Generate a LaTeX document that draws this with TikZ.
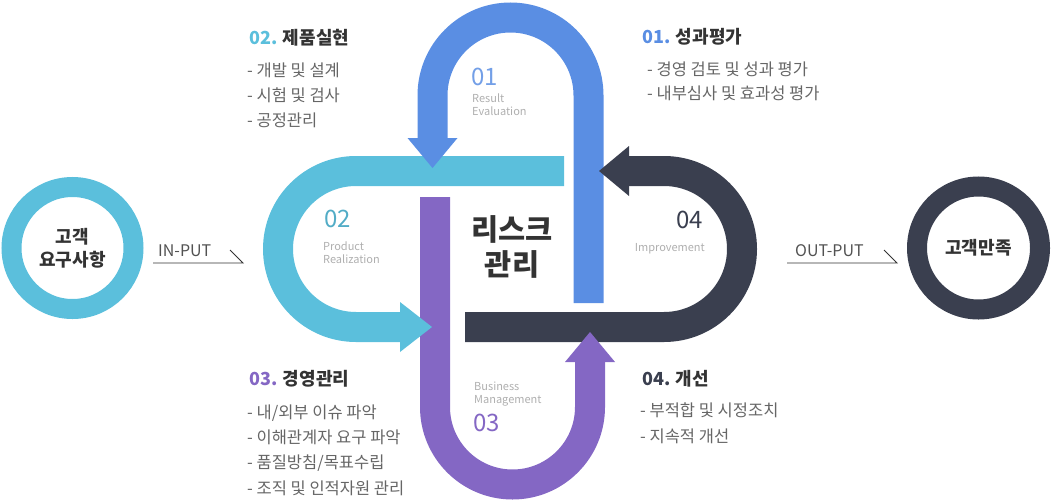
\documentclass[tikz,border=0pt]{standalone}
\usepackage{fontspec}
\setmainfont{Noto Sans CJK KR}
\definecolor{cblue}{HTML}{5A8EE3}
\definecolor{ccyan}{HTML}{5BBFDC}
\definecolor{cpurple}{HTML}{8467C4}
\definecolor{cdark}{HTML}{3A3F4F}
\definecolor{ctext}{HTML}{333333}
\definecolor{citem}{HTML}{666666}
\definecolor{clabel}{HTML}{AFAFAF}
\begin{document}
\begin{tikzpicture}[x=1pt,y=-1pt,
  band/.style={line width=30pt},
  ring/.style={line width=20pt},
  heading/.style={anchor=base west, inner sep=0pt, font=\fontsize{18}{20}\selectfont\bfseries, text=ctext},
  item/.style={anchor=base west, inner sep=0pt, font=\fontsize{16.5}{18}\selectfont, text=citem},
  bignum/.style={inner sep=0pt, font=\fontsize{24}{26}\selectfont},
  sublabel/.style={inner sep=0pt, font=\fontsize{11}{13}\selectfont, text=clabel},
  ioline/.style={draw=ctext, line width=0.9pt},
  iotext/.style={anchor=base west, inner sep=0pt, font=\fontsize{16}{18}\selectfont, text=citem!80!black},
  ringtext/.style={align=center, inner sep=0pt, font=\fontsize{18}{23}\selectfont\bfseries, text=ctext}]
\useasboundingbox (0,0) rectangle (1054,503);

% ---- bands ----
\draw[band, cblue] (588.5,303) -- (588.5,95.5) arc (0:-180:78) -- (432.5,138);
\draw[band, ccyan] (564,171) -- (356,171) arc (-90:-270:78) -- (400,327);
\draw[band, cpurple] (435,197) -- (435,407) arc (180:0:77.5) -- (590,362);
\draw[band, cdark] (465,327) -- (664,327) arc (90:-90:78) -- (629,171);

% ---- arrowheads ----
\fill[cblue] (407.5,138) -- (457.5,138) -- (432.5,168) -- cycle;
\fill[ccyan] (400,302) -- (400,352) -- (432,327) -- cycle;
\fill[cpurple] (565,362) -- (615,362) -- (590,332) -- cycle;
\fill[cdark] (629,146) -- (629,196) -- (599,171) -- cycle;

% ---- centre ----
\node[align=center, inner sep=0pt, font=\fontsize{29.5}{35}\selectfont\bfseries, text=ctext] (risk) at (512,247) {리스크\\관리};

% ---- inner labels ----
\node[bignum, anchor=base west, text=cblue!85!white] (n01) at (471,85) {01};
\node[sublabel, anchor=base west] (l01a) at (472,102) {Result};
\node[sublabel, anchor=base west] (l01b) at (472,115) {Evaluation};

\node[bignum, anchor=base west, text=ccyan!90!black] (n02) at (324,227) {02};
\node[sublabel, anchor=base west] (l02a) at (323,250) {Product};
\node[sublabel, anchor=base west] (l02b) at (323,263) {Realization};

\node[bignum, anchor=base east, text=cdark] (n04) at (703,228) {04};
\node[sublabel, anchor=base east] (l04) at (705,251) {Improvement};

\node[sublabel, anchor=base west] (l03a) at (474,390) {Business};
\node[sublabel, anchor=base west] (l03b) at (474,403) {Management};
\node[bignum, anchor=base west, text=cpurple] (n03) at (473,431) {03};

% ---- circles ----
\draw[ring, ccyan] (72.5,248) circle (61);
\node[ringtext] (req) at (72.5,248) {고객\\요구사항};
\draw[ring, cdark] (978.5,248) circle (61.5);
\node[ringtext] (sat) at (978.5,248) {고객만족};

% ---- in/out ----
\node[iotext] (inp) at (158,256) {IN-PUT};
\coordinate (in1) at (153,263);
\coordinate (in2) at (243,263);
\coordinate (in3) at (230,250);
\draw[ioline] (in1) -- (in2) -- (in3);
\node[iotext] (outp) at (795,256) {OUT-PUT};
\coordinate (out1) at (787,263);
\coordinate (out2) at (897,263);
\coordinate (out3) at (884,250);
\draw[ioline] (out1) -- (out2) -- (out3);

% ---- text blocks ----
\node[heading] (h02) at (249,45) {\textcolor{ccyan}{02.} 제품실현};
\node[item] (i02a) at (247,76) {- 개발 및 설계};
\node[item] (i02b) at (247,101) {- 시험 및 검사};
\node[item] (i02c) at (247,126) {- 공정관리};

\node[heading] (h01) at (642,44) {\textcolor{cblue}{01.} 성과평가};
\node[item] (i01a) at (647,75) {- 경영 검토 및 성과 평가};
\node[item] (i01b) at (647,99) {- 내부심사 및 효과성 평가};

\node[heading] (h03) at (249,385) {\textcolor{cpurple}{03.} 경영관리};
\node[item] (i03a) at (247,418) {- 내/외부 이슈 파악};
\node[item] (i03b) at (247,443) {- 이해관계자 요구 파악};
\node[item] (i03c) at (247,468) {- 품질방침/목표수립};
\node[item] (i03d) at (247,494) {- 조직 및 인적자원 관리};

\node[heading] (h04) at (642,385) {\textcolor{cdark}{04.} 개선};
\node[item] (i04a) at (640,416) {- 부적합 및 시정조치};
\node[item] (i04b) at (640,442) {- 지속적 개선};
\end{tikzpicture}
\end{document}
